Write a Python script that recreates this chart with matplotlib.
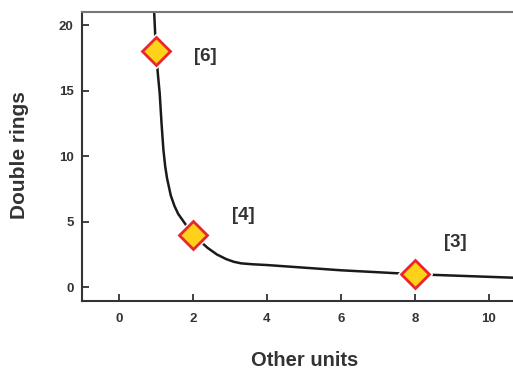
import matplotlib
matplotlib.use("Agg")
import matplotlib.pyplot as plt

plt.rcParams["font.family"] = ["Liberation Sans", "DejaVu Sans"]

# Curve
curve_x = [0.95, 1.0, 1.05, 1.1, 1.15, 1.2, 1.25, 1.3, 1.4, 1.5, 1.6, 1.75, 1.9, 2.0, 2.2, 2.4,
           2.65, 2.9, 3.1, 3.3, 3.6, 4.0, 5.0, 6.0, 7.0, 8.0, 9.0, 10.0, 10.8]
curve_y = [21.0, 18.0, 16.3, 14.8, 12.5, 10.5, 9.2, 8.3, 7.0, 6.2, 5.6, 5.0, 4.4, 4.0, 3.5, 3.0,
           2.5, 2.15, 1.95, 1.83, 1.76, 1.7, 1.5, 1.3, 1.15, 1.0, 0.9, 0.8, 0.72]

# Data points
pts_x = [1, 2, 8]
pts_y = [18, 4, 1]
pts_labels = ["[6]", "[4]", "[3]"]
label_x = [2.32, 3.35, 9.08]
label_y = [17.6, 5.5, 3.4]

x_ticks = [0, 2, 4, 6, 8, 10]
y_ticks = [0, 5, 10, 15, 20]

dark = "#333333"

fig = plt.figure(figsize=(5.13, 3.71), dpi=100)
ax = fig.add_axes([82/513, (371-300.7)/371, 1 - 82/513, (300.7-12)/371])
ax.set_xlim(-1, 10.65)
ax.set_ylim(-1.02, 21.0)

ax.plot(curve_x, curve_y, color="#1a1a1a", lw=1.8, zorder=2, solid_joinstyle="round")
# white halo under markers
ax.plot(pts_x, pts_y, linestyle="none", marker="D", markersize=17, markerfacecolor="white",
        markeredgecolor="white", zorder=3)
ax.plot(pts_x, pts_y, linestyle="none", marker="D", markersize=14, markerfacecolor="#ffd21a",
        markeredgecolor="#e8262c", markeredgewidth=2, zorder=4)

for t, lx, ly in zip(pts_labels, label_x, label_y):
    ax.text(lx, ly, t, fontsize=13.5, fontweight="bold", color=dark, ha="center", va="center")

ax.set_xticks(x_ticks)
ax.set_yticks(y_ticks)
ax.tick_params(direction="in", length=5, width=1.3, colors=dark, labelsize=9.5)
ax.tick_params(axis="y", pad=6)
ax.tick_params(axis="x", pad=9)
for lab in ax.get_xticklabels() + ax.get_yticklabels():
    lab.set_fontweight("bold")
    lab.set_color(dark)

for s in ["left", "bottom"]:
    ax.spines[s].set_color(dark)
    ax.spines[s].set_linewidth(1.5)
ax.spines["top"].set_color("#777777")
ax.spines["top"].set_linewidth(1.5)
ax.spines["right"].set_visible(False)

xl = ax.set_xlabel("Other units", fontsize=14.5, fontweight="bold", color=dark)
yl = ax.set_ylabel("Double rings", fontsize=15, fontweight="bold", color=dark)
xl.set_va("center")
yl.set_va("center")
ax.xaxis.set_label_coords((305 - 82) / 431, (300.7 - 360) / 288.7)
ax.yaxis.set_label_coords((20 - 82) / 431, (300.7 - 155) / 288.7)

fig.savefig("out.png", dpi=100)
